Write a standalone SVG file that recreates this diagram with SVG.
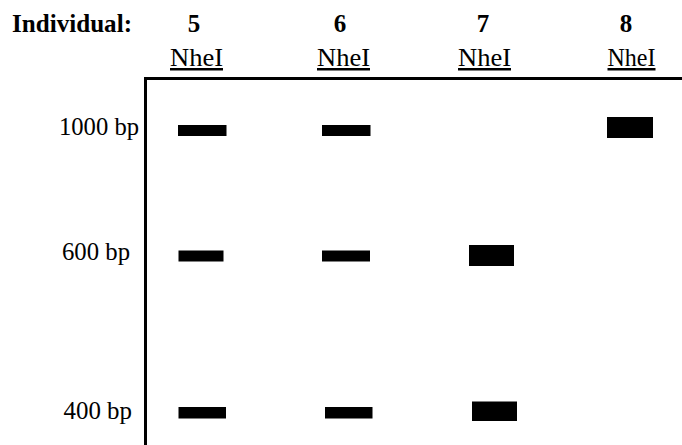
<svg xmlns="http://www.w3.org/2000/svg" width="682" height="445" viewBox="0 0 682 445">
<style>
text{font-family:"Liberation Serif","Times New Roman",serif;fill:#000}
.b{font-weight:bold;font-size:25px}
.n{font-size:25px;text-decoration:underline}
.l{font-size:25px}
.band{fill:#000}
</style>
<rect width="682" height="445" fill="#fff"/>
<g id="header">
<text class="b" x="12" y="32" textLength="120" lengthAdjust="spacingAndGlyphs">Individual:</text>
<text class="b" x="194" y="32" text-anchor="middle">5</text>
<text class="b" x="340" y="32" text-anchor="middle">6</text>
<text class="b" x="483" y="32" text-anchor="middle">7</text>
<text class="b" x="626" y="32" text-anchor="middle">8</text>
</g>
<g id="enzymes">
<text class="n" x="170" y="66" textLength="53" lengthAdjust="spacingAndGlyphs">NheI</text>
<text class="n" x="317" y="66" textLength="53" lengthAdjust="spacingAndGlyphs">NheI</text>
<text class="n" x="458" y="66" textLength="53" lengthAdjust="spacingAndGlyphs">NheI</text>
<text class="n" x="607.5" y="66" textLength="48" lengthAdjust="spacingAndGlyphs">NheI</text>
</g>
<g id="sizes">
<text class="l" x="59" y="135" textLength="80" lengthAdjust="spacingAndGlyphs">1000 bp</text>
<text class="l" x="62" y="260" textLength="68" lengthAdjust="spacingAndGlyphs">600 bp</text>
<text class="l" x="63.5" y="419" textLength="68.5" lengthAdjust="spacingAndGlyphs">400 bp</text>
</g>
<g id="frame">
<polyline points="145.5,445 145.5,78.5 682,78.5" fill="none" stroke="#000" stroke-width="3"/>
</g>
<g id="lane5">
<rect class="band" x="178" y="125" width="48.5" height="11"/>
<rect class="band" x="178.5" y="250.5" width="45" height="11"/>
<rect class="band" x="178.5" y="407" width="47.5" height="11.5"/>
</g>
<g id="lane6">
<rect class="band" x="322" y="125" width="48.5" height="11"/>
<rect class="band" x="322" y="250.5" width="48" height="11"/>
<rect class="band" x="325" y="407" width="47.5" height="11.5"/>
</g>
<g id="lane7">
<rect class="band" x="469" y="245" width="45" height="21"/>
<rect class="band" x="472" y="401.5" width="45" height="19.5"/>
</g>
<g id="lane8">
<rect class="band" x="607" y="117" width="46" height="21"/>
</g>
</svg>
